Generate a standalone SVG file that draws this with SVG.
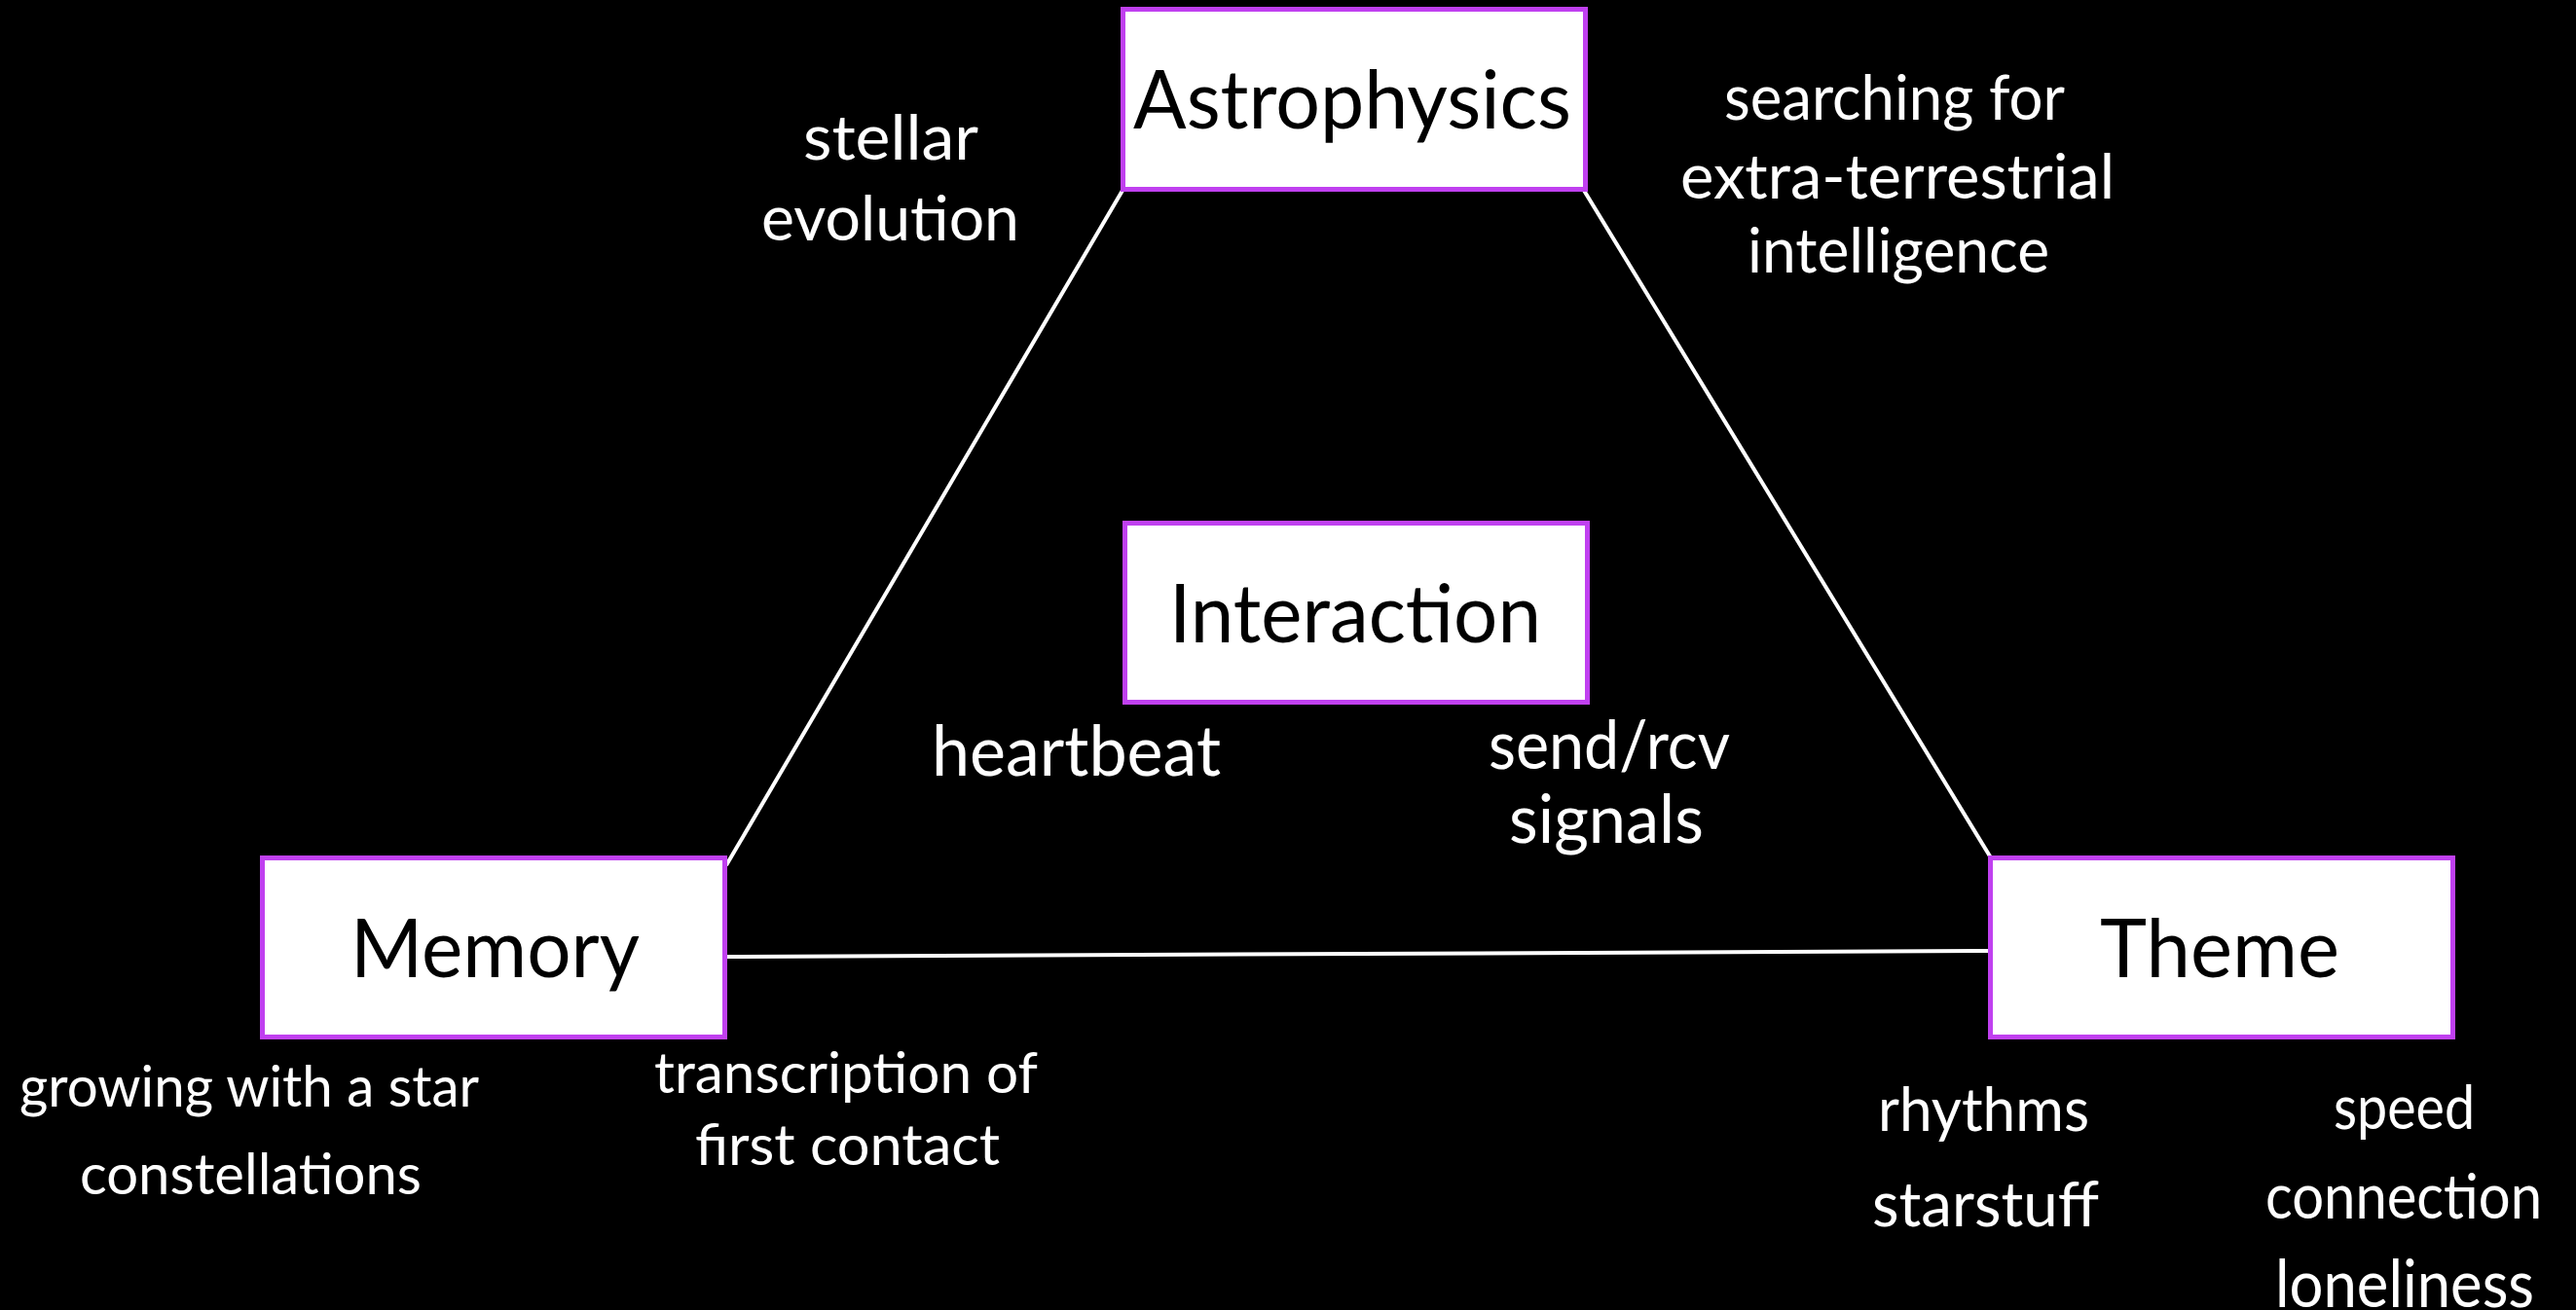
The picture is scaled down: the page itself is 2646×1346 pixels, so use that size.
<svg xmlns="http://www.w3.org/2000/svg" width="2646" height="1346" viewBox="0 0 2646 1346">
<style>
.box{fill:#ffffff;stroke:#c040f0;stroke-width:5}
.nt{font-family:Lato,"Open Sans","Liberation Sans",sans-serif;fill:#000000;font-size:84px}
.lb{font-family:Lato,"Open Sans","Liberation Sans",sans-serif;fill:#ffffff}
.edge{stroke:#ffffff;stroke-width:4;fill:none}
</style>
<rect x="0" y="0" width="2646" height="1346" fill="#000000"/>
<g id="connectors">
<line class="edge" x1="1154" y1="194" x2="746" y2="889"/>
<line class="edge" x1="1626" y1="194" x2="2046" y2="883"/>
<line class="edge" x1="746" y1="983" x2="2046" y2="977"/>
</g>
<g id="astrophysics">
<rect class="box" x="1153.5" y="9.5" width="475" height="185"/>
<text class="nt" x="1164" y="132" textLength="450" lengthAdjust="spacingAndGlyphs">Astrophysics</text>
</g>
<g id="interaction">
<rect class="box" x="1155.5" y="537.5" width="475" height="184"/>
<text class="nt" x="1201" y="660" textLength="382" lengthAdjust="spacingAndGlyphs">Interaction</text>
</g>
<g id="memory">
<rect class="box" x="269.5" y="881.5" width="475" height="184"/>
<text class="nt" x="360" y="1004" textLength="297" lengthAdjust="spacingAndGlyphs">Memory</text>
</g>
<g id="theme">
<rect class="box" x="2044.5" y="881.5" width="475" height="184"/>
<text class="nt" x="2157" y="1004" textLength="246" lengthAdjust="spacingAndGlyphs">Theme</text>
</g>
<g id="labels">
<text class="lb" font-size="64" x="825" y="164" textLength="180" lengthAdjust="spacingAndGlyphs">stellar</text>
<text class="lb" font-size="64" x="782" y="247" textLength="265" lengthAdjust="spacingAndGlyphs">evolution</text>
<text class="lb" font-size="64" x="1771" y="123" textLength="350" lengthAdjust="spacingAndGlyphs">searching for</text>
<text class="lb" font-size="64" x="1726" y="204" textLength="446" lengthAdjust="spacingAndGlyphs">extra-terrestrial</text>
<text class="lb" font-size="64" x="1795" y="280" textLength="310" lengthAdjust="spacingAndGlyphs">intelligence</text>
<text class="lb" font-size="72" x="957" y="797" textLength="297" lengthAdjust="spacingAndGlyphs">heartbeat</text>
<text class="lb" font-size="70" x="1529" y="790" textLength="248" lengthAdjust="spacingAndGlyphs">send/rcv</text>
<text class="lb" font-size="70" x="1550" y="866" textLength="200" lengthAdjust="spacingAndGlyphs">signals</text>
<text class="lb" font-size="58" x="20" y="1137" textLength="472" lengthAdjust="spacingAndGlyphs">growing with a star</text>
<text class="lb" font-size="58" x="82" y="1227" textLength="351" lengthAdjust="spacingAndGlyphs">constellations</text>
<text class="lb" font-size="58" x="672" y="1123" textLength="394" lengthAdjust="spacingAndGlyphs">transcription of</text>
<text class="lb" font-size="58" x="714" y="1197" textLength="313" lengthAdjust="spacingAndGlyphs">first contact</text>
<text class="lb" font-size="62" x="1929" y="1162" textLength="217" lengthAdjust="spacingAndGlyphs">rhythms</text>
<text class="lb" font-size="64" x="1923" y="1260" textLength="233" lengthAdjust="spacingAndGlyphs">starstuff</text>
<text class="lb" font-size="62" x="2397" y="1160" textLength="145" lengthAdjust="spacingAndGlyphs">speed</text>
<text class="lb" font-size="64" x="2327" y="1252" textLength="284" lengthAdjust="spacingAndGlyphs">connection</text>
<text class="lb" font-size="68" x="2337" y="1343" textLength="266" lengthAdjust="spacingAndGlyphs">loneliness</text>
</g>
</svg>
